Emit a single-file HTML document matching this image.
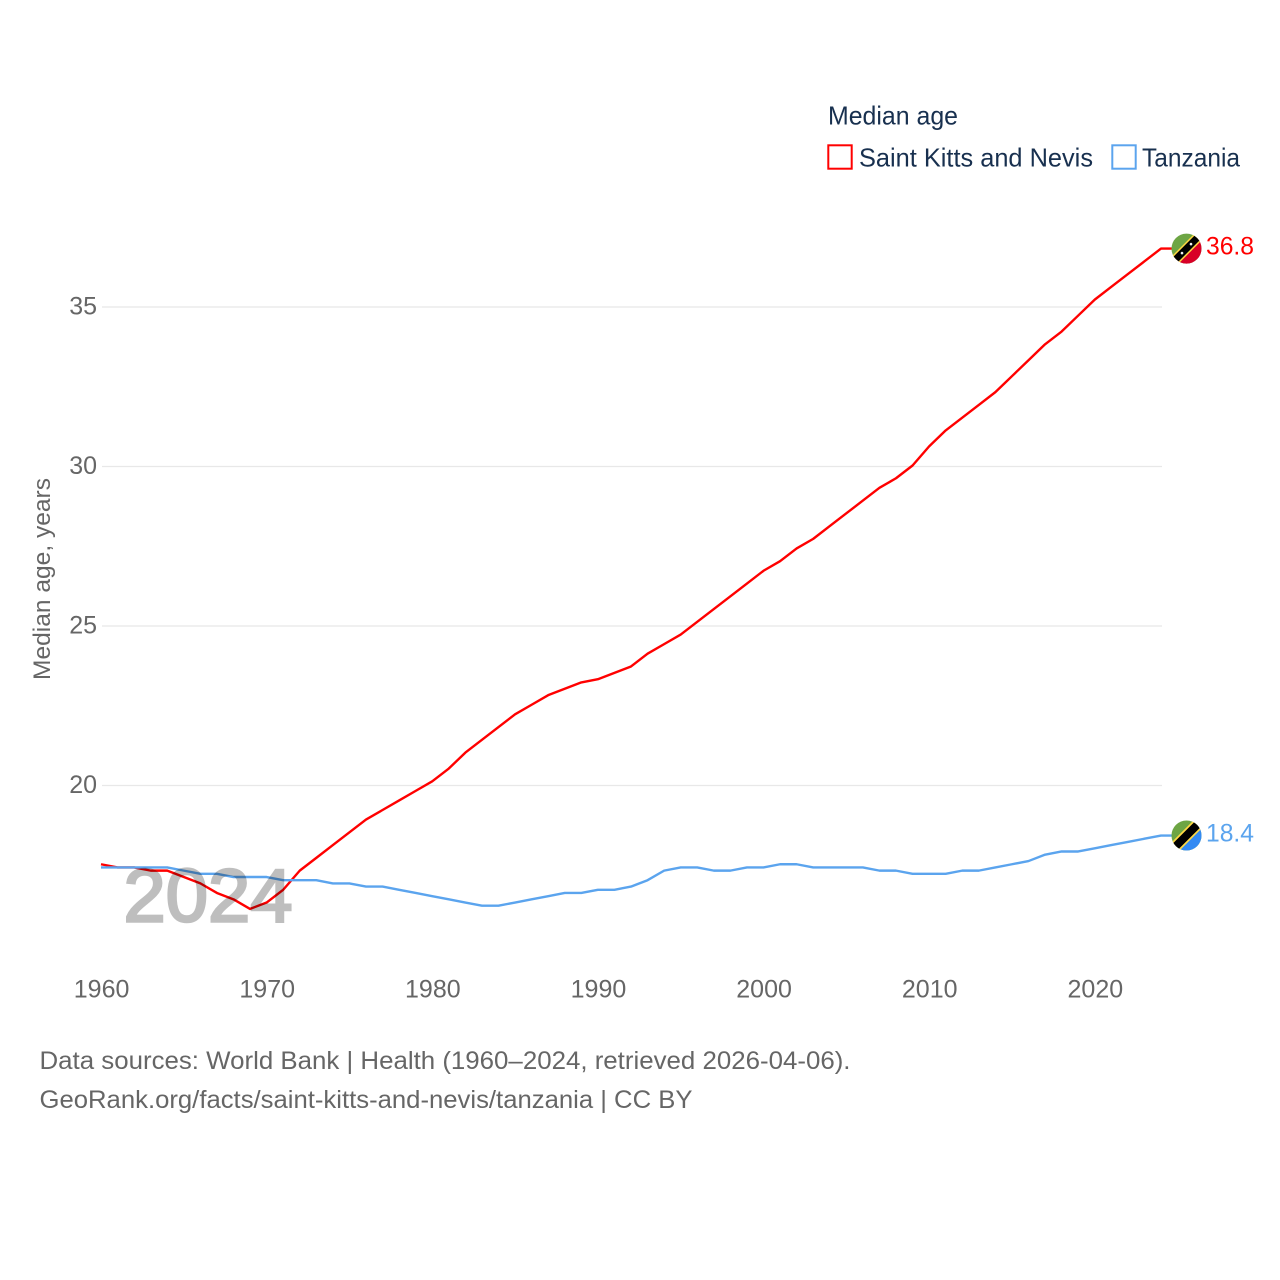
<!DOCTYPE html>
<html lang="en">
<head>
<meta charset="utf-8">
<title>Median age: Saint Kitts and Nevis and Tanzania</title>
<style>
html,body{margin:0;padding:0;background:#fff;width:1280px;height:1280px;overflow:hidden}
svg{display:block;font-family:"Liberation Sans",sans-serif}
</style>
</head>
<body>
<svg id="chart" xmlns="http://www.w3.org/2000/svg" width="1280" height="1280" viewBox="0 0 1280 1280">
  <defs>
    <clipPath id="flag-clip"><circle cx="0" cy="0" r="15"/></clipPath>
  </defs>
  <rect width="1280" height="1280" fill="#fff"/>
  <g id="grid"></g>
  <g id="ytick-labels"></g>
  <g id="xtick-labels"></g>
  <text transform="translate(50 680) rotate(-90)" font-size="24" fill="#666" textLength="202" lengthAdjust="spacingAndGlyphs">Median age, years</text>

  <g id="series-layer"></g>

  <text x="123.5" y="921.5" font-size="75" font-weight="400" fill="#000" stroke="#000" stroke-width="2.6" opacity="0.25" textLength="169" lengthAdjust="spacingAndGlyphs">2024</text>

  <g id="marker-skn">
    <g clip-path="url(#flag-clip)">
      <rect x="-16" y="-16" width="32" height="32" fill="#6da544"/>
      <polygon points="16,-16 16,16 -16,16" fill="#d80027"/>
      <line x1="-16" y1="16" x2="16" y2="-16" stroke="#ffda44" stroke-width="10"/>
      <line x1="-16" y1="16" x2="16" y2="-16" stroke="#000" stroke-width="7"/>
      <circle cx="-4.5" cy="4.5" r="1.3" fill="#f0f0f0"/>
      <circle cx="4.5" cy="-4.5" r="1.3" fill="#f0f0f0"/>
    </g>
  </g>
  <g id="marker-tza">
    <g clip-path="url(#flag-clip)">
      <rect x="-16" y="-16" width="32" height="32" fill="#6da544"/>
      <polygon points="16,-16 16,16 -16,16" fill="#338af3"/>
      <line x1="-16" y1="16" x2="16" y2="-16" stroke="#ffda44" stroke-width="11.5"/>
      <line x1="-16" y1="16" x2="16" y2="-16" stroke="#000" stroke-width="8"/>
    </g>
  </g>
  <text id="value-skn" x="1206" font-size="25" fill="#ff0000" textLength="48" lengthAdjust="spacingAndGlyphs"></text>
  <text id="value-tza" x="1206" font-size="25" fill="#5ba4ee" textLength="48" lengthAdjust="spacingAndGlyphs"></text>

  <g>
    <text x="828" y="124.5" font-size="26" fill="#18304f" textLength="130" lengthAdjust="spacingAndGlyphs">Median age</text>
    <g>
      <rect x="828.3" y="145.3" width="23.4" height="23.4" fill="none" stroke="#ff0000" stroke-width="2"/>
      <text x="859" y="166.5" font-size="26" fill="#18304f" textLength="234" lengthAdjust="spacingAndGlyphs">Saint Kitts and Nevis</text>
    </g>
    <g>
      <rect x="1112.3" y="145.3" width="23.4" height="23.4" fill="none" stroke="#5ba4ee" stroke-width="2"/>
      <text x="1142" y="166.5" font-size="26" fill="#18304f" textLength="98" lengthAdjust="spacingAndGlyphs">Tanzania</text>
    </g>
  </g>

  <g>
    <text x="39.5" y="1069" font-size="25" fill="#666" textLength="811" lengthAdjust="spacingAndGlyphs">Data sources: World Bank | Health (1960–2024, retrieved 2026-04-06).</text>
    <text x="39.5" y="1108" font-size="25" fill="#666" textLength="653" lengthAdjust="spacingAndGlyphs">GeoRank.org/facts/saint-kitts-and-nevis/tanzania | CC BY</text>
  </g>
</svg>
<script>
const years = [1960,1961,1962,1963,1964,1965,1966,1967,1968,1969,1970,1971,1972,1973,1974,1975,1976,1977,1978,1979,1980,1981,1982,1983,1984,1985,1986,1987,1988,1989,1990,1991,1992,1993,1994,1995,1996,1997,1998,1999,2000,2001,2002,2003,2004,2005,2006,2007,2008,2009,2010,2011,2012,2013,2014,2015,2016,2017,2018,2019,2020,2021,2022,2023,2024];
const saintKittsValues = [17.5,17.4,17.4,17.3,17.3,17.1,16.9,16.6,16.4,16.1,16.3,16.7,17.3,17.7,18.1,18.5,18.9,19.2,19.5,19.8,20.1,20.5,21.0,21.4,21.8,22.2,22.5,22.8,23.0,23.2,23.3,23.5,23.7,24.1,24.4,24.7,25.1,25.5,25.9,26.3,26.7,27.0,27.4,27.7,28.1,28.5,28.9,29.3,29.6,30.0,30.6,31.1,31.5,31.9,32.3,32.8,33.3,33.8,34.2,34.7,35.2,35.6,36.0,36.4,36.8];
const tanzaniaValues = [17.4,17.4,17.4,17.4,17.4,17.3,17.2,17.2,17.1,17.1,17.1,17.0,17.0,17.0,16.9,16.9,16.8,16.8,16.7,16.6,16.5,16.4,16.3,16.2,16.2,16.3,16.4,16.5,16.6,16.6,16.7,16.7,16.8,17.0,17.3,17.4,17.4,17.3,17.3,17.4,17.4,17.5,17.5,17.4,17.4,17.4,17.4,17.3,17.3,17.2,17.2,17.2,17.3,17.3,17.4,17.5,17.6,17.8,17.9,17.9,18.0,18.1,18.2,18.3,18.4];
const yTickValues = [20,25,30,35];
const xTickValues = [1960,1970,1980,1990,2000,2010,2020];

const SVG_NS = 'http://www.w3.org/2000/svg';
const xScale = function (year) { return 102 + (year - 1960) * 16.5625; };
const yScale = function (value) { return 785.5 - (value - 20) * 31.9; };
const lineX = function (year) { return xScale(year) - 1; };
const lineY = function (value) { return yScale(value) - 1; };

function make(tag, attrs, parent) {
  const el = document.createElementNS(SVG_NS, tag);
  Object.keys(attrs).forEach(function (k) { el.setAttribute(k, attrs[k]); });
  parent.appendChild(el);
  return el;
}

const gridLayer = document.getElementById('grid');
const yLabelLayer = document.getElementById('ytick-labels');
yTickValues.forEach(function (v) {
  const line = make('line', {x1: 102, x2: 1162, y1: yScale(v), y2: yScale(v), stroke: '#e8e8e8', 'stroke-width': 1.2}, gridLayer);
  
  
  const label = make('text', {x: 97, y: yScale(v) + 7.5, 'text-anchor': 'end', 'font-size': 25, fill: '#666'}, yLabelLayer);
  
  
  label.textContent = String(v);
});

const xLabelLayer = document.getElementById('xtick-labels');
xTickValues.forEach(function (y) {
  const label = make('text', {x: xScale(y) - 0.4, y: 997.5, 'text-anchor': 'middle', 'font-size': 25, fill: '#666'}, xLabelLayer);
  
  
  label.textContent = String(y);
});

const seriesLayer = document.getElementById('series-layer');
function linePath(values) {
  const pts = values.map(function (v, i) { return lineX(years[i]).toFixed(2) + ',' + lineY(v).toFixed(2); });
  const last = values[values.length - 1];
  pts.push('1172,' + lineY(last).toFixed(2));
  return 'M' + pts.join('L');
}

const saintKittsLine = make('path', {d: linePath(saintKittsValues), fill: 'none', stroke: '#ff0000', 'stroke-width': 2.4, 'stroke-linejoin': 'round'}, seriesLayer);



const tanzaniaLine = make('path', {d: linePath(tanzaniaValues), fill: 'none', stroke: '#5ba4ee', 'stroke-width': 2.4, 'stroke-linejoin': 'round'}, seriesLayer);



function placeEnd(markerId, valueId, values) {
  const last = values[values.length - 1];
  const cy = yScale(last) - 1;
  document.getElementById(markerId).setAttribute('transform', 'translate(1186.5 ' + cy.toFixed(2) + ')');
  const t = document.getElementById(valueId);
  t.setAttribute('y', (cy + 6).toFixed(2));
  t.textContent = last.toFixed(1);
}
placeEnd('marker-skn', 'value-skn', saintKittsValues);
placeEnd('marker-tza', 'value-tza', tanzaniaValues);
</script>
</body>
</html>
